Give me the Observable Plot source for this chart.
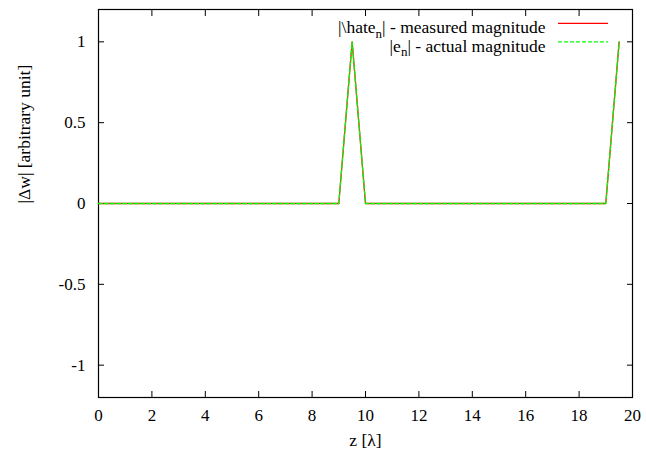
<!DOCTYPE html>
<html>
<head>
<meta charset="utf-8">
<script src="https://cdn.jsdelivr.net/npm/d3@7"></script>
<script src="https://cdn.jsdelivr.net/npm/@observablehq/plot@0.6"></script>
<style>
  html, body { margin: 0; padding: 0; background: #fff; }
  #spacer { position: absolute; left: 0; top: 0; width: 0; height: 0; }
</style>
</head>
<body>
<svg id="spacer" width="0" height="0"></svg>
<div id="chart"></div>
<script>
// Data
const z = [0, 9, 9.5, 10, 19, 19.5];
const measured = [0, 0, 1, 0, 0, 1];
const actual = [0, 0, 1, 0, 0, 1];
const xTicks = [0, 2, 4, 6, 8, 10, 12, 14, 16, 18, 20];
const yTicks = [-1, -0.5, 0, 0.5, 1];
const legendHeads = ["|\\hate", "|e"];
const legendSubs = ["n", "n"];
const legendTails = ["| - measured magnitude", "| - actual magnitude"];
const xLabel = "z [λ]";
const yLabel = "|Δw| [arbitrary unit]";

const measuredData = z.map((v, i) => ({z: v, w: measured[i]}));
const actualData = z.map((v, i) => ({z: v, w: actual[i]}));

const W = 646, H = 462;
const mL = 98, mR = 14, mT = 9, mB = 65;
const FS = 17.5, SUBFS = 13;
const colors = ["#ff0000", "#00ff00"];
const dashes = [null, "4,2"];

// text measuring for legend layout
const ctx = document.createElement("canvas").getContext("2d");
function tw(s, size) { ctx.font = `${size}px "Liberation Serif", serif`; return ctx.measureText(s).width; }

const legendRight = 545;           // right end of legend text (px)
const rowCenters = [20.4, 38.9];   // vertical centres of legend rows (px)
const frameRight = W - mR;
const SERIF = "Liberation Serif";

const legendMarks = [];
legendTails.forEach((tail, i) => {
  const wTail = tw(tail, FS);
  const wSub = tw(legendSubs[i], SUBFS);
  const cy = rowCenters[i];
  const common = {frameAnchor: "top-right", textAnchor: "end", fontFamily: SERIF, fill: "#000"};
  legendMarks.push(Plot.text([tail], {...common, fontSize: FS, dx: legendRight - frameRight, dy: cy - mT}));
  legendMarks.push(Plot.text([legendSubs[i]], {...common, fontSize: SUBFS, dx: legendRight - wTail - frameRight, dy: cy + 7.4 - mT}));
  legendMarks.push(Plot.text([legendHeads[i]], {...common, fontSize: FS, dx: legendRight - wTail - wSub - frameRight, dy: cy - mT}));
});

const plot = Plot.plot({
  width: W,
  height: H,
  marginLeft: mL,
  marginRight: mR,
  marginTop: mT,
  marginBottom: mB,
  style: "font-family: serif; font-size: 17px; color: #000; background: #fff;",
  x: {domain: [0, 20]},
  y: {domain: [-1.2, 1.2]},
  marks: [
    Plot.axisX({anchor: "bottom", ticks: xTicks, tickSize: -6, tickPadding: 17, label: null, tickFormat: d => String(d), fontSize: 17, fontFamily: SERIF}),
    Plot.axisX({anchor: "top", ticks: xTicks, tickSize: -6, text: null, label: null}),
    Plot.axisY({anchor: "left", ticks: yTicks, tickSize: -6, tickPadding: 19, label: null, tickFormat: d => String(d), fontSize: 17, fontFamily: SERIF}),
    Plot.axisY({anchor: "right", ticks: yTicks, tickSize: -6, text: null, label: null}),
    Plot.frame({stroke: "#000", strokeWidth: 1.2}),
    Plot.line(measuredData, {x: "z", y: "w", stroke: colors[0], strokeWidth: 1.3}),
    Plot.line(actualData, {x: "z", y: "w", stroke: colors[1], strokeWidth: 1.3, strokeDasharray: dashes[1]}),
    Plot.text([xLabel], {frameAnchor: "bottom", dy: 445 - (H - mB), fontSize: FS, fontFamily: SERIF, fill: "#000"}),
    Plot.text([yLabel], {frameAnchor: "left", rotate: -90, dx: -74, dy: 0, fontSize: FS, fontFamily: SERIF, fill: "#000"}),
    ...legendMarks
  ]
});

document.getElementById("chart").appendChild(plot);

// legend sample lines
const svg = d3.select(plot);
const g = svg.append("g");
rowCenters.forEach((cy, i) => {
  g.append("line")
    .attr("x1", 558).attr("x2", 608)
    .attr("y1", cy + 3).attr("y2", cy + 3)
    .attr("stroke", colors[i])
    .attr("stroke-width", 1.3)
    .attr("stroke-dasharray", dashes[i]);
});
</script>
</body>
</html>
